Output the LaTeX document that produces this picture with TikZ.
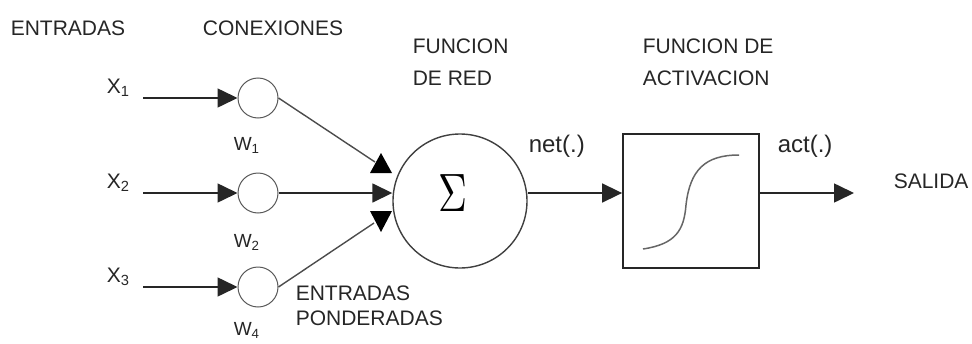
\documentclass[tikz,border=0pt]{standalone}
\usepackage{fontspec}
\setmainfont{Liberation Sans}
\usepackage{tikz}
\usetikzlibrary{arrows.meta}

\begin{document}
\begin{tikzpicture}[x=1pt, y=-1pt, line width=1.6pt,
    txt/.style={inner sep=0pt, text=black!85, font=\fontsize{21}{25}\selectfont},
    lowtxt/.style={inner sep=0pt, text=black!85, font=\fontsize{24}{28}\selectfont},
    wtxt/.style={inner sep=0pt, text=black!85, font=\fontsize{19}{22}\selectfont},
    peso/.style={circle, draw=black!65, fill=white, line width=1pt, minimum size=40pt, inner sep=0pt},
    tip/.style={-{Triangle[length=20pt, width=19pt]}},
    ];
    \useasboundingbox (0,0) rectangle (972,343);

    % titulos
    \node[txt, anchor=base] (tent) at (68,35) {ENTRADAS};
    \node[txt, anchor=base] (tcon) at (273,35) {CONEXIONES};
    \node[txt, anchor=base west] (tred1) at (412,53) {FUNCION};
    \node[txt, anchor=base west] (tred2) at (412,85) {DE RED};
    \node[txt, anchor=base west] (tact1) at (642,53) {FUNCION DE};
    \node[txt, anchor=base west] (tact2) at (642,85) {ACTIVACION};

    % entradas
    \node[txt, anchor=base west] (x1) at (106,93) {X\textsubscript{1}};
    \node[txt, anchor=base west] (x2) at (106,188) {X\textsubscript{2}};
    \node[txt, anchor=base west] (x3) at (106,282) {X\textsubscript{3}};
    \coordinate (in1) at (143,98);
    \coordinate (in2) at (143,193);
    \coordinate (in3) at (143,287);

    % pesos
    \node[peso] (c1) at (258,98) {};
    \node[peso] (c2) at (258,193) {};
    \node[peso] (c3) at (258,287) {};
    \node[wtxt, anchor=base west] (w1) at (233,150) {W\textsubscript{1}};
    \node[wtxt, anchor=base west] (w2) at (233,247) {W\textsubscript{2}};
    \node[wtxt, anchor=base west] (w3) at (233,335) {W\textsubscript{4}};

    \draw[black!85, tip] (in1) -- (c1.west);
    \draw[black!85, tip] (in2) -- (c2.west);
    \draw[black!85, tip] (in3) -- (c3.west);

    \node[txt, anchor=base west] (pond1) at (295,300) {ENTRADAS};
    \node[txt, anchor=base west] (pond2) at (295,325) {PONDERADAS};

    % funcion de red
    \node[circle, draw=black!75, line width=1.4pt, minimum size=134pt, inner sep=0pt] (sum) at (460,201) {};
    \node (sigma) at (453,193) {\scalebox{4}[5.4]{$\Sigma$}};

    \coordinate (t1) at (375,162);
    \coordinate (t3) at (374,223);
    \draw[black!70, line width=1.4pt] (c1.east) -- (t1);
    \draw[black!70, line width=1.4pt] (c3.east) -- (t3);
    \fill[black] (381,153) -- (392,173) -- (370,173) -- cycle;
    \fill[black] (370,211) -- (392,211) -- (381,232) -- cycle;
    \draw[black!85, tip] (c2.east) -- (c2 -| sum.west);

    \node[lowtxt, anchor=base west] (net) at (528,152) {net(.)};

    % funcion de activacion
    \node[draw=black!85, line width=1.8pt, minimum width=136pt, minimum height=134pt, inner sep=0pt] (box) at (691,201) {};
    \draw[black!60, line width=1.5pt] (643,249) .. controls (676,244) and (684,230) .. (686,205)
        .. controls (690,170) and (705,155) .. (739,155);
    \draw[black!85, tip] (sum.east |- c2) -- (box.west |- c2);

    \node[lowtxt, anchor=base west] (act) at (777,152) {act(.)};

    % salida
    \coordinate (out) at (854,193);
    \draw[black!85, tip] (box.east |- c2) -- (out);
    \node[txt, anchor=base west] (sal) at (893,188) {SALIDA};
\end{tikzpicture}
\end{document}
